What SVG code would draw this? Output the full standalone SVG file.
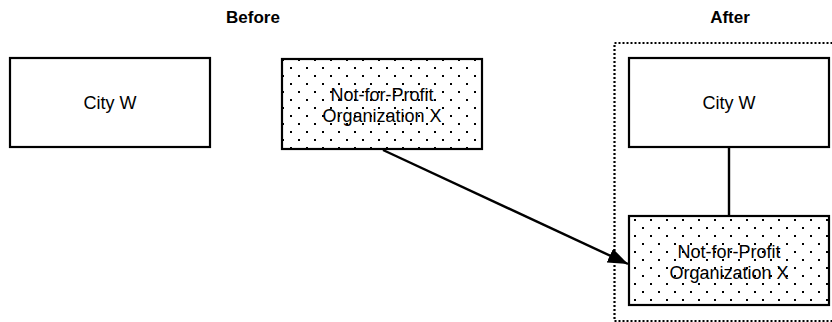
<svg xmlns="http://www.w3.org/2000/svg" width="832" height="322" viewBox="0 0 832 322">
<style>
.box{stroke:#000;stroke-width:2.2}
.plain{fill:#fff}
.dots{fill:url(#dotpat)}
.t{font-family:"Liberation Sans",Arial,sans-serif;font-size:18px;fill:#000;text-anchor:middle}
.h{font-family:"Liberation Sans",Arial,sans-serif;font-size:17px;font-weight:bold;fill:#000;text-anchor:middle}
.conn{stroke:#000;stroke-width:2.4;fill:none}
</style>
<defs>
<pattern id="dotpat" x="0" y="0" width="16" height="16" patternUnits="userSpaceOnUse">
<rect width="16" height="16" fill="#fff"/>
<rect x="2" y="3" width="2" height="2" fill="#000"/>
<rect x="10" y="11" width="2" height="2" fill="#000"/>
</pattern>
<marker id="arrow" viewBox="0 0 20 15" refX="20" refY="7.5" markerWidth="20" markerHeight="15" orient="auto" markerUnits="userSpaceOnUse">
<path d="M0,0 L20,7.5 L0,15 z" fill="#000"/>
</marker>
</defs>
<text class="h" x="253" y="22.7">Before</text>
<text class="h" x="730" y="22.7">After</text>
<rect id="after-frame" x="614.5" y="43" width="240" height="278" fill="none" stroke="#000" stroke-width="2.2" stroke-dasharray="2 2"/>
<g id="connectors">
<line class="conn" x1="729" y1="147" x2="729" y2="216"/>
<line class="conn" x1="383" y1="150" x2="628" y2="264" marker-end="url(#arrow)"/>
</g>
<g id="city-w-before">
<rect class="box plain" x="10" y="58" width="200" height="89"/>
<text class="t" x="110" y="109">City W</text>
</g>
<g id="nfp-before">
<rect class="box dots" x="282" y="59" width="200" height="90"/>
<text class="t" x="382" y="101">Not-for-Profit</text>
<text class="t" x="382" y="122">Organization X</text>
</g>
<g id="city-w-after">
<rect class="box plain" x="629" y="58" width="200" height="89"/>
<text class="t" x="729" y="109">City W</text>
</g>
<g id="nfp-after">
<rect class="box dots" x="629" y="216" width="200" height="89"/>
<text class="t" x="729" y="258">Not-for-Profit</text>
<text class="t" x="729" y="279">Organization X</text>
</g>
</svg>
